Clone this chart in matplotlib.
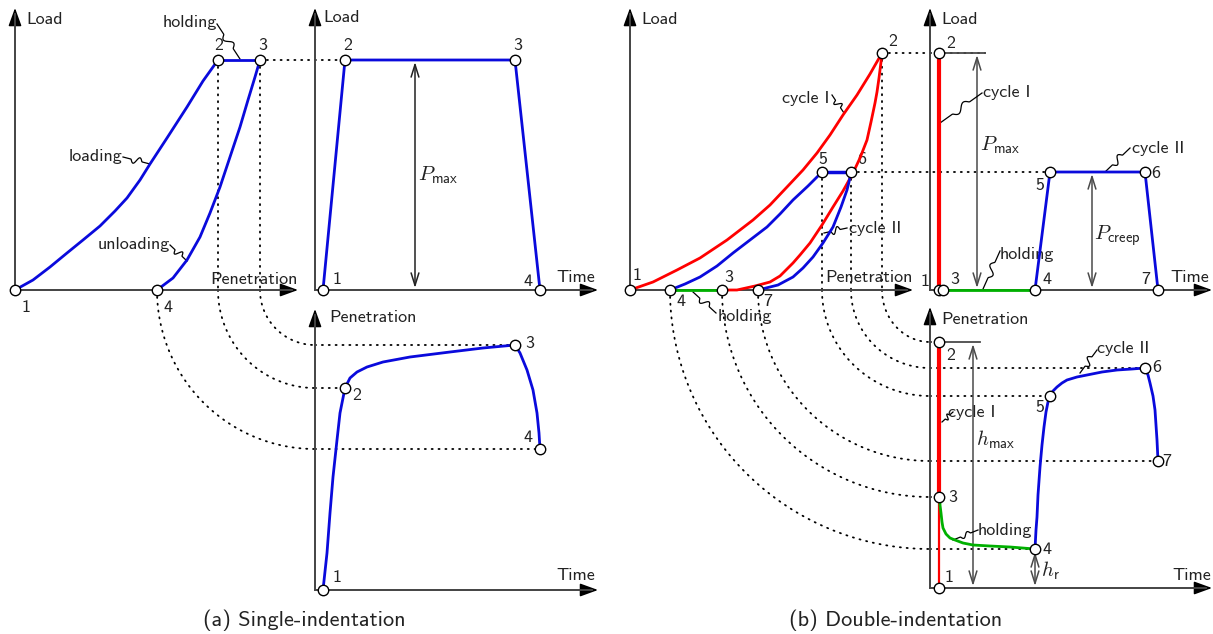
import numpy as np
import matplotlib
matplotlib.use('Agg')
import matplotlib.pyplot as plt

plt.rcParams['font.family'] = ['cmss10', 'DejaVu Sans']
plt.rcParams['mathtext.fontset'] = 'cm'
plt.rcParams['axes.formatter.use_mathtext'] = True

# ---- panel (a): single indentation (drawing units = pixels of the sheet) ----
a_load_x = [15, 33, 50, 67, 83, 100, 115, 127, 140, 150, 167, 187, 203, 218]
a_load_y = [290, 280, 267, 253, 240, 226, 211, 198, 180, 164, 138, 107, 81, 60]
a_hold_x = [218, 260]
a_hold_y = [60, 60]
a_unload_x = [157, 173, 187, 200, 210, 220, 230, 240, 248, 255, 260]
a_unload_y = [290, 278, 260, 237, 213, 187, 157, 127, 100, 77, 60]
a_pts_x = [15, 218, 260, 157]
a_pts_y = [290, 60, 60, 290]

a_lt_x = [323, 345, 515, 540]      # load-time
a_lt_y = [290, 60, 60, 290]

a_pt_x = [323, 327, 330, 333, 337, 340, 345, 350, 357, 367, 383, 410, 450, 483, 515,
          520, 527, 533, 537, 539, 540]   # penetration-time
a_pt_y = [590, 553, 513, 477, 440, 413, 388, 378, 372, 367, 362, 357, 352, 348, 345,
          353, 370, 390, 413, 433, 449]
a_pt_pts_x = [323, 345, 515, 540]
a_pt_pts_y = [590, 388, 345, 449]

# ---- panel (b): double indentation ----
b_c1_load_x = [630, 653, 677, 700, 727, 753, 770, 787, 803, 817, 830, 843, 857, 870, 882]
b_c1_load_y = [290, 282, 270, 258, 240, 220, 205, 187, 170, 153, 135, 115, 95, 74, 53]
b_c1_unl_x = [882, 881, 879, 877, 875, 871, 867, 860, 853, 843, 833, 822, 810, 800,
              793, 780, 770, 755, 737, 722]
b_c1_unl_y = [53, 62, 78, 92, 103, 122, 140, 158, 173, 191, 207, 225, 243, 255,
              263, 276, 282, 286, 290, 290]
b_hold_x = [670, 722]
b_hold_y = [290, 290]
b_c2_load_x = [670, 685, 700, 717, 733, 750, 767, 780, 793, 808, 822]
b_c2_load_y = [290, 284, 277, 266, 253, 240, 227, 214, 200, 186, 172]
b_c2_hold_x = [822, 851]
b_c2_hold_y = [172, 172]
b_c2_unl_x = [851, 849, 847, 841, 833, 823, 813, 803, 793, 778, 758]
b_c2_unl_y = [172, 182, 190, 207, 227, 243, 257, 268, 277, 285, 290]
b_pts_x = [630, 882, 722, 670, 822, 851, 758]
b_pts_y = [290, 53, 290, 290, 172, 172, 290]

b_lt_red_x = [939, 939]
b_lt_red_y = [290, 53]
b_lt_green_x = [943, 1035]
b_lt_green_y = [290, 290]
b_lt_blue_x = [1035, 1050, 1145, 1158]
b_lt_blue_y = [290, 172, 172, 290]
b_lt_pts_x = [939, 943, 939, 1035, 1050, 1145, 1158]
b_lt_pts_y = [290, 290, 53, 290, 172, 172, 290]

b_pt_red_x = [939, 939]
b_pt_red_y = [342, 497]
b_pt_red2_x = [939, 939]
b_pt_red2_y = [497, 588]
b_pt_green_x = [940, 940, 941, 942, 943, 946, 950, 955, 963, 973, 990, 1010, 1035]
b_pt_green_y = [497, 505, 513, 522, 528, 534, 538, 540, 543, 545, 546, 547, 549]
b_pt_blue_x = [1035, 1036, 1037, 1038, 1040, 1042, 1044, 1046, 1048, 1050, 1053, 1057,
               1062, 1067, 1077, 1087, 1102, 1117, 1132, 1145, 1148, 1150, 1153, 1155,
               1156, 1157, 1158]
b_pt_blue_y = [549, 530, 517, 495, 467, 445, 427, 412, 402, 396, 391, 387,
               383, 380, 377, 375, 372, 370, 369, 368, 375, 383, 396, 410,
               425, 440, 461]
b_pt_pts_x = [939, 939, 939, 1035, 1050, 1145, 1158]
b_pt_pts_y = [588, 342, 497, 549, 396, 368, 461]

# projection lines: source x on the load-penetration axis -> target level on penetration-time plot
a_proj_src = [157, 218, 260]
a_proj_lvl = [449, 388, 345]
a_proj_end = [540, 345, 515]
b_proj_src = [670, 722, 758, 822, 851, 882]
b_proj_lvl = [549, 497, 461, 396, 368, 342]
b_proj_end = [1035, 939, 1158, 1050, 1145, 939]

BLUE = '#0a0adc'
RED = '#ff0000'
GREEN = '#00b000'
AX = '#4a4a4a'
FS = 13

fig = plt.figure(figsize=(12.13, 6.34), dpi=100)
ax = fig.add_axes([0, 0, 1, 1])
ax.set_xlim(0, 1213)
ax.set_ylim(634, 0)
ax.axis('off')


def axis_arrow(x0, y0, x1, y1):
    ax.annotate('', xy=(x1, y1), xytext=(x0, y0),
                arrowprops=dict(arrowstyle='-|>,head_length=0.55,head_width=0.2',
                                mutation_scale=20, color=AX, fc='k', ec='k',
                                lw=1.1, shrinkA=0, shrinkB=0), zorder=1)
    ax.plot([x0, x1 - (x1 - x0) * 0.02], [y0, y1 - (y1 - y0) * 0.02], color=AX, lw=1.3, zorder=1)


def dim_arrow(x, y0, y1, color='#222222'):
    ax.annotate('', xy=(x, y1), xytext=(x, y0),
                arrowprops=dict(arrowstyle='<->,head_length=0.9,head_width=0.28',
                                mutation_scale=10, color=color, lw=1.1,
                                shrinkA=0, shrinkB=0), zorder=2)


def dotted(xs, ys):
    ax.plot(xs, ys, color='k', lw=1.3, ls=(0, (0.6, 3.2)),
            dash_capstyle='round', zorder=1)


def leader(p0, p1, amp=3.5):
    t = np.linspace(0, 1, 60)
    p0 = np.asarray(p0, float)
    p1 = np.asarray(p1, float)
    d = p1 - p0
    n = np.array([-d[1], d[0]]) / np.hypot(*d)
    w = np.where((t > 0.3) & (t < 0.7), np.sin(2 * np.pi * (t - 0.3) / 0.4), 0)
    pts = p0[None, :] + t[:, None] * d[None, :] + (amp * w)[:, None] * n[None, :]
    ax.plot(pts[:, 0], pts[:, 1], color='k', lw=0.9, zorder=3)


def circles(xs, ys):
    ax.plot(xs, ys, 'o', ms=7.5, mfc='white', mec='k', mew=1.0, ls='none', zorder=6)


def txt(x, y, s, size=FS, **kw):
    ax.text(x, y, s, fontsize=size, ha='center', va='center', color='#222222', **kw)


# projection lines, panel (a)
for xs, lvl, xe in zip(a_proj_src, a_proj_lvl, a_proj_end):
    th = np.linspace(np.pi, np.pi / 2, 80)
    rx, ry = 315 - xs, lvl - 290
    dotted(315 + rx * np.cos(th), 290 + ry * np.sin(th))
    dotted([315, xe], [lvl, lvl])
dotted([218, 218], [60, 290])
dotted([260, 260], [60, 290])
dotted([260, 345], [60, 60])

# projection lines, panel (b)
for xs, lvl, xe in zip(b_proj_src, b_proj_lvl, b_proj_end):
    th = np.linspace(np.pi, np.pi / 2, 80)
    rx, ry = 930 - xs, lvl - 290
    dotted(930 + rx * np.cos(th), 290 + ry * np.sin(th))
    dotted([930, xe], [lvl, lvl])
dotted([822, 822], [172, 290])
dotted([851, 851], [172, 290])
dotted([882, 882], [53, 290])
dotted([882, 985], [53, 53])
dotted([851, 1080], [172, 172])

# axes
axis_arrow(15, 290, 15, 8)
axis_arrow(15, 290, 298, 290)
axis_arrow(315, 290, 315, 8)
axis_arrow(315, 290, 598, 290)
axis_arrow(315, 590, 315, 309)
axis_arrow(315, 590, 598, 590)
axis_arrow(630, 290, 630, 8)
axis_arrow(630, 290, 913, 290)
axis_arrow(930, 290, 930, 8)
axis_arrow(930, 290, 1212, 290)
axis_arrow(930, 588, 930, 307)
axis_arrow(930, 588, 1212, 588)

# curves, panel (a)
lw = 2.0
ax.plot(a_load_x, a_load_y, color=BLUE, lw=lw, zorder=4)
ax.plot(a_hold_x, a_hold_y, color=BLUE, lw=lw, zorder=4)
ax.plot(a_unload_x, a_unload_y, color=BLUE, lw=lw, zorder=4)
circles(a_pts_x, a_pts_y)
ax.plot(a_lt_x, a_lt_y, color=BLUE, lw=lw, zorder=4)
circles(a_lt_x, a_lt_y)
ax.plot(a_pt_x, a_pt_y, color=BLUE, lw=lw, zorder=4)
circles(a_pt_pts_x, a_pt_pts_y)

# curves, panel (b)
ax.plot(b_c1_load_x, b_c1_load_y, color=RED, lw=lw, zorder=4)
ax.plot(b_c1_unl_x, b_c1_unl_y, color=RED, lw=lw, zorder=4)
ax.plot(b_hold_x, b_hold_y, color=GREEN, lw=lw, zorder=4)
ax.plot(b_c2_load_x, b_c2_load_y, color=BLUE, lw=lw, zorder=4)
ax.plot(b_c2_hold_x, b_c2_hold_y, color=BLUE, lw=lw + 0.5, zorder=4)
ax.plot(b_c2_unl_x, b_c2_unl_y, color=BLUE, lw=lw, zorder=4)
circles(b_pts_x, b_pts_y)

ax.plot([939, 985], [53, 53], color=AX, lw=1.3, zorder=2)
ax.plot(b_lt_red_x, b_lt_red_y, color=RED, lw=3.0, zorder=4)
ax.plot(b_lt_green_x, b_lt_green_y, color=GREEN, lw=lw, zorder=4)
ax.plot(b_lt_blue_x, b_lt_blue_y, color=BLUE, lw=lw, zorder=4)
circles(b_lt_pts_x, b_lt_pts_y)

ax.plot([939, 980], [342, 342], color=AX, lw=1.3, zorder=2)
ax.plot(b_pt_red_x, b_pt_red_y, color=RED, lw=3.0, zorder=4)
ax.plot(b_pt_red2_x, b_pt_red2_y, color=RED, lw=1.6, zorder=4)
ax.plot(b_pt_green_x, b_pt_green_y, color=GREEN, lw=lw, zorder=4)
ax.plot(b_pt_blue_x, b_pt_blue_y, color=BLUE, lw=lw, zorder=4)
circles(b_pt_pts_x, b_pt_pts_y)

# dimension arrows
dim_arrow(415, 62, 288)
dim_arrow(977, 55, 288, AX)
dim_arrow(1092, 174, 288, AX)
dim_arrow(973, 344, 586, AX)
dim_arrow(1035, 552, 586, AX)

# leaders
leader((217, 24), (240, 59))
leader((123, 157), (150, 164))
leader((170, 245), (187, 261))
leader((832, 95), (844, 113))
leader((847, 228), (824, 233))
leader((693, 292), (716, 313))
leader((982, 93), (940, 123))
leader((1130, 148), (1105, 172))
leader((1000, 251), (983, 289))
leader((1097, 350), (1080, 373))
leader((953, 412), (942, 422), amp=2.5)
leader((978, 530), (953, 540), amp=2.5)

# labels, panel (a)
txt(45, 19, 'Load')
txt(190, 23, 'holding')
txt(219, 45, '2')
txt(263, 45, '3')
txt(95, 156, 'loading')
txt(134, 245, 'unloading')
txt(254, 279, 'Penetration')
txt(26, 308, '1')
txt(168, 308, '4')
txt(342, 18, 'Load')
txt(348, 45, '2')
txt(518, 45, '3')
txt(337, 280, '1')
txt(528, 282, '4')
txt(576, 277, 'Time')
txt(438, 175, r'$P_{\mathsf{max}}$', size=15)
txt(373, 318, 'Penetration')
txt(357, 395, '2')
txt(530, 343, '3')
txt(528, 437, '4')
txt(337, 578, '1')
txt(576, 576, 'Time')

# labels, panel (b)
txt(660, 19, 'Load')
txt(637, 275, '1')
txt(893, 42, '2')
txt(729, 278, '3')
txt(681, 302, '4')
txt(823, 160, '5')
txt(862, 160, '6')
txt(768, 302, '7')
txt(806, 98, 'cycle I')
txt(875, 228, 'cycle II')
txt(869, 277, 'Penetration')
txt(745, 317, 'holding')

txt(960, 19, 'Load')
txt(951, 43, '2')
txt(1007, 93, 'cycle I')
txt(1000, 145, r'$P_{\mathsf{max}}$', size=15)
txt(1158, 148, 'cycle II')
txt(1040, 185, '5')
txt(1156, 173, '6')
txt(1117, 236, r'$P_{\mathsf{creep}}$', size=15)
txt(1027, 255, 'holding')
txt(925, 282, '1')
txt(955, 280, '3')
txt(1047, 280, '4')
txt(1146, 280, '7')
txt(1190, 277, 'Time')

txt(985, 319, 'Penetration')
txt(951, 355, '2')
txt(953, 497, '3')
txt(1047, 549, '4')
txt(1040, 407, '5')
txt(1157, 367, '6')
txt(1167, 461, '7')
txt(949, 578, '1')
txt(1192, 575, 'Time')
txt(1123, 348, 'cycle II')
txt(972, 412, 'cycle I')
txt(1005, 530, 'holding')
txt(996, 440, r'$h_{\mathsf{max}}$', size=15)
txt(1050, 571, r'$h_{\mathsf{r}}$', size=15)

# captions
txt(304, 620, '(a) Single-indentation', size=16)
txt(896, 620, '(b) Double-indentation', size=16)

fig.savefig('out.png', dpi=100)
